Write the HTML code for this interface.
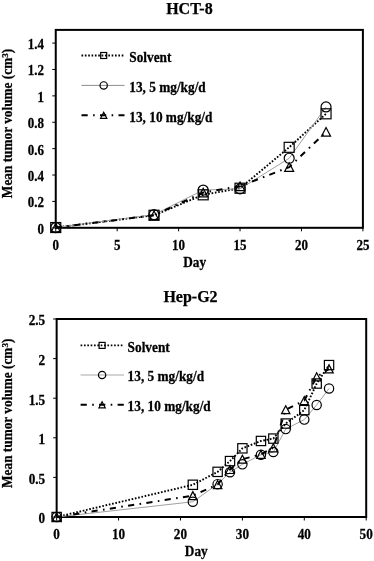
<!DOCTYPE html>
<html><head><meta charset="utf-8"><style>
html,body{margin:0;padding:0;background:#fff;width:374px;height:561px;overflow:hidden}
svg{display:block;will-change:transform}
.t{font-family:"Liberation Serif", serif;font-weight:bold;font-size:13.3px;fill:#000;stroke:#000;stroke-width:0.25px}
.tk{font-family:"Liberation Serif", serif;font-weight:bold;font-size:13px;fill:#000;stroke:#000;stroke-width:0.25px}
.tk2{font-family:"Liberation Serif", serif;font-weight:bold;font-size:13.2px;fill:#000;stroke:#000;stroke-width:0.25px}
.ti{font-family:"Liberation Serif", serif;font-weight:bold;font-size:16px;fill:#000;stroke:#000;stroke-width:0.25px}
</style></head><body>
<svg width="374" height="561" viewBox="0 0 374 561">
<rect width="374" height="561" fill="#fff"/>
<rect x="55.75" y="29.9" width="307.15" height="197.90" fill="none" stroke="#000" stroke-width="2"/>
<line x1="52.25" y1="227.80" x2="55.75" y2="227.80" stroke="#000" stroke-width="1"/>
<text transform="translate(44.10,233.80) scale(1,1.08)" text-anchor="end" class="tk">0</text>
<line x1="52.25" y1="201.41" x2="55.75" y2="201.41" stroke="#000" stroke-width="1"/>
<text transform="translate(44.10,207.41) scale(1,1.08)" text-anchor="end" class="tk">0.2</text>
<line x1="52.25" y1="175.03" x2="55.75" y2="175.03" stroke="#000" stroke-width="1"/>
<text transform="translate(44.10,181.03) scale(1,1.08)" text-anchor="end" class="tk">0.4</text>
<line x1="52.25" y1="148.64" x2="55.75" y2="148.64" stroke="#000" stroke-width="1"/>
<text transform="translate(44.10,154.64) scale(1,1.08)" text-anchor="end" class="tk">0.6</text>
<line x1="52.25" y1="122.25" x2="55.75" y2="122.25" stroke="#000" stroke-width="1"/>
<text transform="translate(44.10,128.25) scale(1,1.08)" text-anchor="end" class="tk">0.8</text>
<line x1="52.25" y1="95.87" x2="55.75" y2="95.87" stroke="#000" stroke-width="1"/>
<text transform="translate(44.10,101.87) scale(1,1.08)" text-anchor="end" class="tk">1</text>
<line x1="52.25" y1="69.48" x2="55.75" y2="69.48" stroke="#000" stroke-width="1"/>
<text transform="translate(44.10,75.48) scale(1,1.08)" text-anchor="end" class="tk">1.2</text>
<line x1="52.25" y1="43.09" x2="55.75" y2="43.09" stroke="#000" stroke-width="1"/>
<text transform="translate(44.10,49.09) scale(1,1.08)" text-anchor="end" class="tk">1.4</text>
<line x1="55.75" y1="227.8" x2="55.75" y2="231.30" stroke="#000" stroke-width="1"/>
<text transform="translate(55.75,250.10) scale(1,1.08)" text-anchor="middle" class="tk">0</text>
<line x1="117.18" y1="227.8" x2="117.18" y2="231.30" stroke="#000" stroke-width="1"/>
<text transform="translate(117.18,250.10) scale(1,1.08)" text-anchor="middle" class="tk">5</text>
<line x1="178.61" y1="227.8" x2="178.61" y2="231.30" stroke="#000" stroke-width="1"/>
<text transform="translate(178.61,250.10) scale(1,1.08)" text-anchor="middle" class="tk">10</text>
<line x1="240.04" y1="227.8" x2="240.04" y2="231.30" stroke="#000" stroke-width="1"/>
<text transform="translate(240.04,250.10) scale(1,1.08)" text-anchor="middle" class="tk">15</text>
<line x1="301.47" y1="227.8" x2="301.47" y2="231.30" stroke="#000" stroke-width="1"/>
<text transform="translate(301.47,250.10) scale(1,1.08)" text-anchor="middle" class="tk">20</text>
<line x1="362.90" y1="227.8" x2="362.90" y2="231.30" stroke="#000" stroke-width="1"/>
<text transform="translate(362.90,250.10) scale(1,1.08)" text-anchor="middle" class="tk">25</text>
<text x="189.4" y="13.7" text-anchor="middle" class="ti">HCT-8</text>
<text transform="translate(194.70,266.70) scale(1,1.08)" text-anchor="middle" class="t">Day</text>
<text transform="translate(11.7,123.5) rotate(-90) scale(1,1.02)" text-anchor="middle" class="t">Mean tumor volume (cm<tspan dy="-3.8" font-size="9">3</tspan><tspan dy="3.8">)</tspan></text>
<polyline points="55.75,227.54 154.04,215.27 203.18,194.82 240.04,188.22 289.18,147.32 326.04,113.81" fill="none" stroke="#000" stroke-width="1.9" stroke-dasharray="1.65 1.7"/>
<polyline points="55.75,227.54 154.04,214.61 203.18,190.07 240.04,188.88 289.18,158.27 326.04,106.95" fill="none" stroke="#a0a0a0" stroke-width="1"/>
<polyline points="55.75,227.54 154.04,215.27 203.18,192.57 240.04,186.24 289.18,167.11 326.04,131.88" fill="none" stroke="#000" stroke-width="2" stroke-dasharray="6.2 5.4 1.6 5.3"/>
<rect x="50.75" y="222.54" width="10" height="10" fill="none" stroke="#000" stroke-width="1.2"/>
<rect x="149.04" y="210.27" width="10" height="10" fill="none" stroke="#000" stroke-width="1.2"/>
<rect x="198.18" y="189.82" width="10" height="10" fill="none" stroke="#000" stroke-width="1.2"/>
<rect x="235.04" y="183.22" width="10" height="10" fill="none" stroke="#000" stroke-width="1.2"/>
<rect x="284.18" y="142.32" width="10" height="10" fill="none" stroke="#000" stroke-width="1.2"/>
<rect x="321.04" y="108.81" width="10" height="10" fill="none" stroke="#000" stroke-width="1.2"/>
<circle cx="55.75" cy="227.54" r="5.00" fill="none" stroke="#000" stroke-width="1.2"/>
<circle cx="154.04" cy="214.61" r="5.00" fill="none" stroke="#000" stroke-width="1.2"/>
<circle cx="203.18" cy="190.07" r="5.00" fill="none" stroke="#000" stroke-width="1.2"/>
<circle cx="240.04" cy="188.88" r="5.00" fill="none" stroke="#000" stroke-width="1.2"/>
<circle cx="289.18" cy="158.27" r="5.00" fill="none" stroke="#000" stroke-width="1.2"/>
<circle cx="326.04" cy="106.95" r="5.00" fill="none" stroke="#000" stroke-width="1.2"/>
<path d="M55.75,223.24 L60.25,231.84 L51.25,231.84 Z" fill="none" stroke="#000" stroke-width="1.2" stroke-linejoin="miter"/>
<path d="M154.04,210.97 L158.54,219.57 L149.54,219.57 Z" fill="none" stroke="#000" stroke-width="1.2" stroke-linejoin="miter"/>
<path d="M203.18,188.27 L207.68,196.87 L198.68,196.87 Z" fill="none" stroke="#000" stroke-width="1.2" stroke-linejoin="miter"/>
<path d="M240.04,181.94 L244.54,190.54 L235.54,190.54 Z" fill="none" stroke="#000" stroke-width="1.2" stroke-linejoin="miter"/>
<path d="M289.18,162.81 L293.68,171.41 L284.68,171.41 Z" fill="none" stroke="#000" stroke-width="1.2" stroke-linejoin="miter"/>
<path d="M326.04,127.58 L330.54,136.18 L321.54,136.18 Z" fill="none" stroke="#000" stroke-width="1.2" stroke-linejoin="miter"/>
<line x1="81.5" y1="55.5" x2="124.5" y2="55.5" stroke="#000" stroke-width="1.9" stroke-dasharray="1.65 1.7"/>
<rect x="100.70" y="52.50" width="6" height="6" fill="none" stroke="#000" stroke-width="1.2"/>
<text transform="translate(129.30,62.10) scale(1,1.05)" class="t">Solvent</text>
<line x1="81.5" y1="85.4" x2="124.5" y2="85.4" stroke="#8c8c8c" stroke-width="1"/>
<circle cx="103.70" cy="85.40" r="3.65" fill="none" stroke="#000" stroke-width="1.2"/>
<text transform="translate(129.30,92.00) scale(1,1.05)" class="t">13, 5 mg/kg/d</text>
<line x1="81.5" y1="115.3" x2="124.5" y2="115.3" stroke="#000" stroke-width="2" stroke-dasharray="6.2 5.4 1.6 5.3"/>
<path d="M103.70,112.29 L106.85,118.31 L100.55,118.31 Z" fill="none" stroke="#000" stroke-width="1.2" stroke-linejoin="miter"/>
<text transform="translate(129.30,121.90) scale(1,1.05)" class="t">13, 10 mg/kg/d</text>
<rect x="56.65" y="319" width="309.55" height="198.00" fill="none" stroke="#000" stroke-width="2"/>
<line x1="53.15" y1="517.00" x2="56.65" y2="517.00" stroke="#000" stroke-width="1"/>
<text transform="translate(45.20,523.30) scale(1,1.06)" text-anchor="end" class="tk2">0</text>
<line x1="53.15" y1="477.40" x2="56.65" y2="477.40" stroke="#000" stroke-width="1"/>
<text transform="translate(45.20,483.70) scale(1,1.06)" text-anchor="end" class="tk2">0.5</text>
<line x1="53.15" y1="437.80" x2="56.65" y2="437.80" stroke="#000" stroke-width="1"/>
<text transform="translate(45.20,444.10) scale(1,1.06)" text-anchor="end" class="tk2">1</text>
<line x1="53.15" y1="398.20" x2="56.65" y2="398.20" stroke="#000" stroke-width="1"/>
<text transform="translate(45.20,404.50) scale(1,1.06)" text-anchor="end" class="tk2">1.5</text>
<line x1="53.15" y1="358.60" x2="56.65" y2="358.60" stroke="#000" stroke-width="1"/>
<text transform="translate(45.20,364.90) scale(1,1.06)" text-anchor="end" class="tk2">2</text>
<line x1="53.15" y1="319.00" x2="56.65" y2="319.00" stroke="#000" stroke-width="1"/>
<text transform="translate(45.20,325.30) scale(1,1.06)" text-anchor="end" class="tk2">2.5</text>
<line x1="56.65" y1="517" x2="56.65" y2="520.50" stroke="#000" stroke-width="1"/>
<text transform="translate(56.65,538.80) scale(1,1.06)" text-anchor="middle" class="tk2">0</text>
<line x1="118.56" y1="517" x2="118.56" y2="520.50" stroke="#000" stroke-width="1"/>
<text transform="translate(118.56,538.80) scale(1,1.06)" text-anchor="middle" class="tk2">10</text>
<line x1="180.47" y1="517" x2="180.47" y2="520.50" stroke="#000" stroke-width="1"/>
<text transform="translate(180.47,538.80) scale(1,1.06)" text-anchor="middle" class="tk2">20</text>
<line x1="242.38" y1="517" x2="242.38" y2="520.50" stroke="#000" stroke-width="1"/>
<text transform="translate(242.38,538.80) scale(1,1.06)" text-anchor="middle" class="tk2">30</text>
<line x1="304.29" y1="517" x2="304.29" y2="520.50" stroke="#000" stroke-width="1"/>
<text transform="translate(304.29,538.80) scale(1,1.06)" text-anchor="middle" class="tk2">40</text>
<line x1="366.20" y1="517" x2="366.20" y2="520.50" stroke="#000" stroke-width="1"/>
<text transform="translate(366.20,538.80) scale(1,1.06)" text-anchor="middle" class="tk2">50</text>
<text x="190.5" y="302.3" text-anchor="middle" class="ti">Hep-G2</text>
<text transform="translate(196.30,556.20) scale(1,1.04)" text-anchor="middle" class="t">Day</text>
<text transform="translate(11.7,413.3) rotate(-90) scale(1,1.02)" text-anchor="middle" class="t">Mean tumor volume (cm<tspan dy="-3.8" font-size="9">3</tspan><tspan dy="3.8">)</tspan></text>
<polyline points="56.65,517.00 192.85,484.77 217.62,471.86 230.00,461.08 242.38,448.33 260.95,440.97 273.33,438.59 285.72,423.54 304.29,410.08 316.67,383.55 329.05,365.09" fill="none" stroke="#000" stroke-width="1.9" stroke-dasharray="1.65 1.7"/>
<polyline points="56.65,517.00 192.85,501.79 217.62,484.13 230.00,472.25 242.38,464.33 260.95,454.75 273.33,452.06 285.72,429.09 304.29,419.58 316.67,404.93 329.05,388.54" fill="none" stroke="#a0a0a0" stroke-width="1"/>
<polyline points="56.65,517.00 192.85,495.62 217.62,484.53 230.00,469.48 242.38,459.18 260.95,454.43 273.33,447.78 285.72,409.68 304.29,400.58 316.67,376.82 329.05,368.90" fill="none" stroke="#000" stroke-width="2" stroke-dasharray="6.2 5.4 1.6 5.3" stroke-dashoffset="1.7"/>
<rect x="52.00" y="512.35" width="9.3" height="9.3" fill="none" stroke="#000" stroke-width="1.2"/>
<rect x="188.20" y="480.12" width="9.3" height="9.3" fill="none" stroke="#000" stroke-width="1.2"/>
<rect x="212.97" y="467.21" width="9.3" height="9.3" fill="none" stroke="#000" stroke-width="1.2"/>
<rect x="225.35" y="456.43" width="9.3" height="9.3" fill="none" stroke="#000" stroke-width="1.2"/>
<rect x="237.73" y="443.68" width="9.3" height="9.3" fill="none" stroke="#000" stroke-width="1.2"/>
<rect x="256.30" y="436.32" width="9.3" height="9.3" fill="none" stroke="#000" stroke-width="1.2"/>
<rect x="268.69" y="433.94" width="9.3" height="9.3" fill="none" stroke="#000" stroke-width="1.2"/>
<rect x="281.07" y="418.89" width="9.3" height="9.3" fill="none" stroke="#000" stroke-width="1.2"/>
<rect x="299.64" y="405.43" width="9.3" height="9.3" fill="none" stroke="#000" stroke-width="1.2"/>
<rect x="312.02" y="378.90" width="9.3" height="9.3" fill="none" stroke="#000" stroke-width="1.2"/>
<rect x="324.40" y="360.44" width="9.3" height="9.3" fill="none" stroke="#000" stroke-width="1.2"/>
<circle cx="56.65" cy="517.00" r="4.65" fill="none" stroke="#000" stroke-width="1.2"/>
<circle cx="192.85" cy="501.79" r="4.65" fill="none" stroke="#000" stroke-width="1.2"/>
<circle cx="217.62" cy="484.13" r="4.65" fill="none" stroke="#000" stroke-width="1.2"/>
<circle cx="230.00" cy="472.25" r="4.65" fill="none" stroke="#000" stroke-width="1.2"/>
<circle cx="242.38" cy="464.33" r="4.65" fill="none" stroke="#000" stroke-width="1.2"/>
<circle cx="260.95" cy="454.75" r="4.65" fill="none" stroke="#000" stroke-width="1.2"/>
<circle cx="273.33" cy="452.06" r="4.65" fill="none" stroke="#000" stroke-width="1.2"/>
<circle cx="285.72" cy="429.09" r="4.65" fill="none" stroke="#000" stroke-width="1.2"/>
<circle cx="304.29" cy="419.58" r="4.65" fill="none" stroke="#000" stroke-width="1.2"/>
<circle cx="316.67" cy="404.93" r="4.65" fill="none" stroke="#000" stroke-width="1.2"/>
<circle cx="329.05" cy="388.54" r="4.65" fill="none" stroke="#000" stroke-width="1.2"/>
<path d="M56.65,513.00 L60.84,521.00 L52.46,521.00 Z" fill="none" stroke="#000" stroke-width="1.2" stroke-linejoin="miter"/>
<path d="M192.85,491.62 L197.04,499.62 L188.67,499.62 Z" fill="none" stroke="#000" stroke-width="1.2" stroke-linejoin="miter"/>
<path d="M217.62,480.53 L221.80,488.53 L213.43,488.53 Z" fill="none" stroke="#000" stroke-width="1.2" stroke-linejoin="miter"/>
<path d="M230.00,465.48 L234.18,473.48 L225.81,473.48 Z" fill="none" stroke="#000" stroke-width="1.2" stroke-linejoin="miter"/>
<path d="M242.38,455.19 L246.56,463.18 L238.19,463.18 Z" fill="none" stroke="#000" stroke-width="1.2" stroke-linejoin="miter"/>
<path d="M260.95,450.43 L265.14,458.43 L256.77,458.43 Z" fill="none" stroke="#000" stroke-width="1.2" stroke-linejoin="miter"/>
<path d="M273.33,443.78 L277.52,451.78 L269.15,451.78 Z" fill="none" stroke="#000" stroke-width="1.2" stroke-linejoin="miter"/>
<path d="M285.72,405.68 L289.90,413.68 L281.53,413.68 Z" fill="none" stroke="#000" stroke-width="1.2" stroke-linejoin="miter"/>
<path d="M304.29,396.58 L308.47,404.58 L300.10,404.58 Z" fill="none" stroke="#000" stroke-width="1.2" stroke-linejoin="miter"/>
<path d="M316.67,372.82 L320.86,380.82 L312.49,380.82 Z" fill="none" stroke="#000" stroke-width="1.2" stroke-linejoin="miter"/>
<path d="M329.05,364.90 L333.24,372.89 L324.87,372.89 Z" fill="none" stroke="#000" stroke-width="1.2" stroke-linejoin="miter"/>
<line x1="80.6" y1="345.4" x2="124" y2="345.4" stroke="#000" stroke-width="1.9" stroke-dasharray="1.65 1.7"/>
<rect x="99.10" y="342.40" width="6" height="6" fill="none" stroke="#000" stroke-width="1.2"/>
<text transform="translate(127.60,351.80) scale(1,1.03)" class="t">Solvent</text>
<line x1="80.6" y1="375" x2="124" y2="375" stroke="#a8a8a8" stroke-width="1.2"/>
<circle cx="102.10" cy="375.00" r="3.65" fill="none" stroke="#000" stroke-width="1.2"/>
<text transform="translate(127.60,381.40) scale(1,1.03)" class="t">13, 5 mg/kg/d</text>
<line x1="80.6" y1="404.8" x2="124" y2="404.8" stroke="#000" stroke-width="2" stroke-dasharray="6.2 5.4 1.6 5.3"/>
<path d="M102.10,401.79 L105.25,407.81 L98.95,407.81 Z" fill="none" stroke="#000" stroke-width="1.2" stroke-linejoin="miter"/>
<text transform="translate(127.60,411.20) scale(1,1.03)" class="t">13, 10 mg/kg/d</text>
</svg>
</body></html>
